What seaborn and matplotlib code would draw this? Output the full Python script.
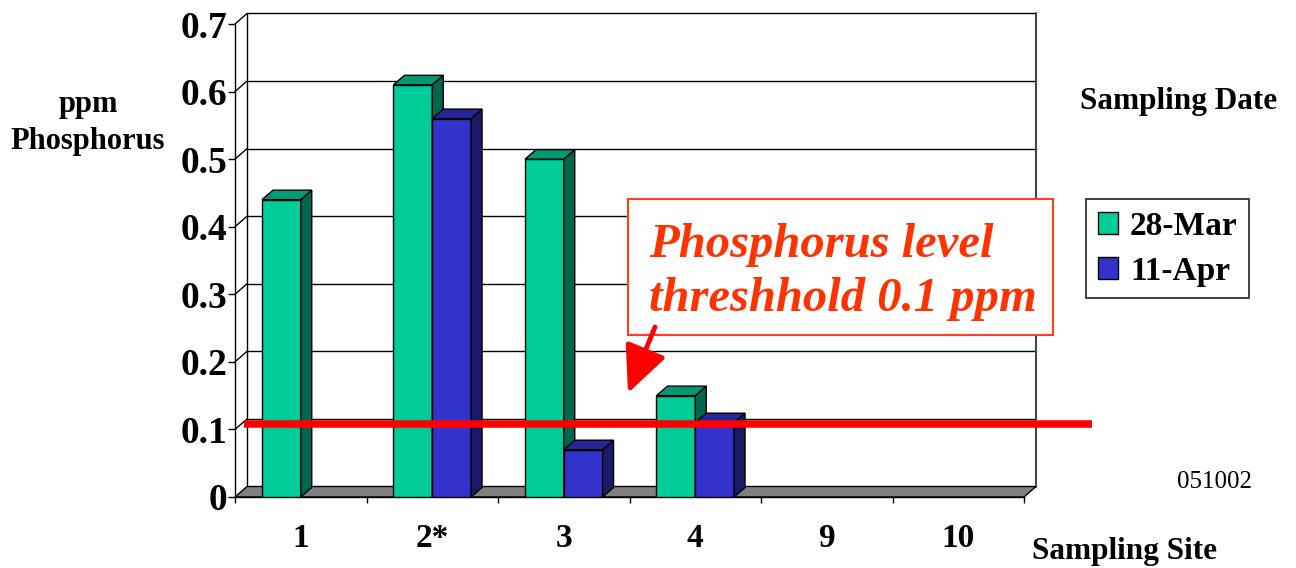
import numpy as np
import pandas as pd
import matplotlib
matplotlib.use("Agg")
import matplotlib.pyplot as plt
import matplotlib.transforms as mtransforms
from matplotlib.patches import Polygon, Rectangle, FancyArrowPatch
import seaborn as sns

# ---------------- data ----------------
sites = ["1", "2*", "3", "4", "9", "10"]
dates = ["28-Mar", "11-Apr"]
mar28 = [0.44, 0.61, 0.50, 0.15, np.nan, np.nan]
apr11 = [np.nan, 0.56, 0.07, 0.11, np.nan, np.nan]
threshold = 0.1
ytick_values = [0, 0.1, 0.2, 0.3, 0.4, 0.5, 0.6, 0.7]
ytick_labels = ["0", "0.1", "0.2", "0.3", "0.4", "0.5", "0.6", "0.7"]

df = pd.DataFrame({
    "site": sites * 2,
    "date": [dates[0]] * len(sites) + [dates[1]] * len(sites),
    "ppm": mar28 + apr11,
})

# ---------------- style ----------------
sns.set_style("white")
plt.rcParams["font.family"] = ["Liberation Serif", "DejaVu Serif"]
plt.rcParams["font.weight"] = "bold"
plt.rcParams["text.color"] = "black"
plt.rcParams["xtick.color"] = "black"
plt.rcParams["ytick.color"] = "black"
plt.rcParams["axes.labelcolor"] = "black"

W, H = 1296, 568
fig = plt.figure(figsize=(W / 100, H / 100), dpi=100)
ax_left, ax_right, ax_bottom, ax_top = 235, 1024, 497, 24
ax = fig.add_axes([ax_left / W, (H - ax_bottom) / H,
                   (ax_right - ax_left) / W, (ax_bottom - ax_top) / H])
ax.set_facecolor("none")

palette = {"28-Mar": "#00CC99", "11-Apr": "#3333CC"}
sns.barplot(data=df, x="site", y="ppm", hue="date", order=sites,
            hue_order=dates, palette=palette, width=0.59, errorbar=None,
            edgecolor="black", linewidth=1.0, saturation=1, ax=ax)

ax.set_xlim(-0.5, len(sites) - 0.5)
ax.set_ylim(0, 0.7)

# pixel -> data conversions
xpp = (len(sites)) / (ax_right - ax_left)
ypp = 0.7 / (ax_bottom - ax_top)
wdx, wdy = 12 * xpp, 10.5 * ypp    # wall depth
bdx, bdy = 11 * xpp, 9.5 * ypp     # bar depth

x0, x1 = -0.5, len(sites) - 0.5

# back wall
wall_kw = dict(color="black", lw=1.0, clip_on=False, zorder=0.5)
for v in ytick_values[1:]:
    ax.plot([x0 + wdx, x1 + wdx], [v + wdy, v + wdy], **wall_kw)
    ax.plot([x0, x0 + wdx], [v, v + wdy], **wall_kw)
ax.plot([x0 + wdx, x0 + wdx], [wdy, 0.7 + wdy], **wall_kw)
ax.plot([x1 + wdx, x1 + wdx], [wdy, 0.7 + wdy], color="#444444", lw=1.5,
        clip_on=False, zorder=0.5)

# floor
floor = Polygon([(x0, 0), (x1, 0), (x1 + wdx, wdy), (x0 + wdx, wdy)],
                closed=True, facecolor="#808080", edgecolor="black", lw=1.0,
                clip_on=False, zorder=1)
ax.add_patch(floor)

# 3D faces for bars
bars = [p for p in ax.patches if p is not floor and np.isfinite(p.get_height())
        and p.get_height() > 0]
bars.sort(key=lambda p: p.get_x())
for i, p in enumerate(bars):
    bx, bw, bh = p.get_x(), p.get_width(), p.get_height()
    fc = np.array(p.get_facecolor()[:3])
    z = 3 + i * 0.1
    p.set_zorder(z)
    side = Polygon([(bx + bw, 0), (bx + bw, bh), (bx + bw + bdx, bh + bdy),
                    (bx + bw + bdx, bdy)], closed=True, facecolor=fc * 0.5,
                   edgecolor="black", lw=1.0, clip_on=False, zorder=z + 0.05)
    top = Polygon([(bx, bh), (bx + bw, bh), (bx + bw + bdx, bh + bdy),
                   (bx + bdx, bh + bdy)], closed=True, facecolor=fc * 0.75,
                  edgecolor="black", lw=1.0, clip_on=False, zorder=z + 0.05)
    ax.add_patch(side)
    ax.add_patch(top)

# axes / ticks
sns.despine(ax=ax, top=True, right=True)
for s in ("left", "bottom"):
    ax.spines[s].set_color("black")
    ax.spines[s].set_linewidth(1.0)
    ax.spines[s].set_zorder(2)
ax.set_yticks(ytick_values)
ax.set_yticklabels(ytick_labels, fontsize=27, fontweight="bold")
ax.tick_params(axis="y", direction="out", length=5, width=1, pad=0.5,
               left=True, color="black", labelcolor="black")
ax.set_xticks(range(len(sites)))
ax.set_xticklabels(sites, fontsize=24, fontweight="bold")
ax.set_xticks(np.arange(-0.5, len(sites), 1.0), minor=True)
ax.tick_params(axis="x", which="major", length=0, pad=19, labelcolor="black")
ax.tick_params(axis="x", which="minor", direction="out", length=4.5,
               width=1, bottom=True, color="black")
ax.set_xlabel("")
ax.set_ylabel("")
ax.grid(False)

# threshold line (drawn at mid depth)
thr_trans = mtransforms.blended_transform_factory(ax.transAxes, ax.transData)
ax.plot([0.0114, 1.086], [threshold + wdy / 2, threshold + wdy / 2],
        color="#FF0000", lw=5.4, solid_capstyle="butt", transform=thr_trans,
        clip_on=False, zorder=10)

# legend
handles, labels = ax.get_legend_handles_labels()
if ax.get_legend() is not None:
    ax.get_legend().remove()
leg = fig.legend(handles, labels, loc="upper left",
                 bbox_to_anchor=(1086 / W, 1 - 199 / H),
                 prop={"weight": "bold", "size": 24}, frameon=True,
                 fancybox=False, shadow=False, handlelength=0.62,
                 handleheight=0.68, handletextpad=0.35, labelspacing=0.42,
                 borderpad=0.35, borderaxespad=0)
leg.get_frame().set_edgecolor("black")
leg.get_frame().set_linewidth(1.3)
for h in leg.legend_handles:
    h.set_edgecolor("black")
    h.set_linewidth(1.0)
for t in leg.get_texts():
    t.set_color("black")

# labels
fig.text(88 / W, 1 - 123 / H, "ppm\nPhosphorus", ha="center", va="center",
         fontsize=22, fontweight="bold", linespacing=1.35, color="black")
fig.text(1080 / W, 1 - 101 / H, "Sampling Date", ha="left", va="center",
         fontsize=22.5, fontweight="bold", color="black")
fig.text(1032 / W, 1 - 552 / H, "Sampling Site", ha="left", va="center",
         fontsize=22.5, fontweight="bold", color="black")
fig.text(1177 / W, 1 - 482 / H, "051002", ha="left", va="center",
         fontsize=18, fontweight="normal", color="black")

# annotation box
box = Rectangle((628 / W, 1 - 335 / H), (1053 - 628) / W, (335 - 199) / H,
                transform=fig.transFigure, facecolor="white",
                edgecolor="#FF4010", lw=1.5, zorder=20)
fig.patches.append(box)
ann_kw = dict(fontsize=35, fontweight="bold", fontstyle="italic",
              color="#FF3300", ha="left", va="baseline", zorder=21)
fig.text(649 / W, 1 - 257 / H, "Phosphorus level", **ann_kw)
fig.text(649 / W, 1 - 311 / H, "threshhold 0.1 ppm", **ann_kw)

arrow = FancyArrowPatch((655 / W, 1 - 327 / H), (628 / W, 1 - 393 / H),
                        transform=fig.transFigure,
                        arrowstyle="-|>,head_length=1.3,head_width=0.6",
                        mutation_scale=22, lw=3.5, color="#FF0000",
                        shrinkA=0, shrinkB=0, zorder=22)
fig.patches.append(arrow)

fig.savefig("out.png", dpi=100, facecolor="white")
